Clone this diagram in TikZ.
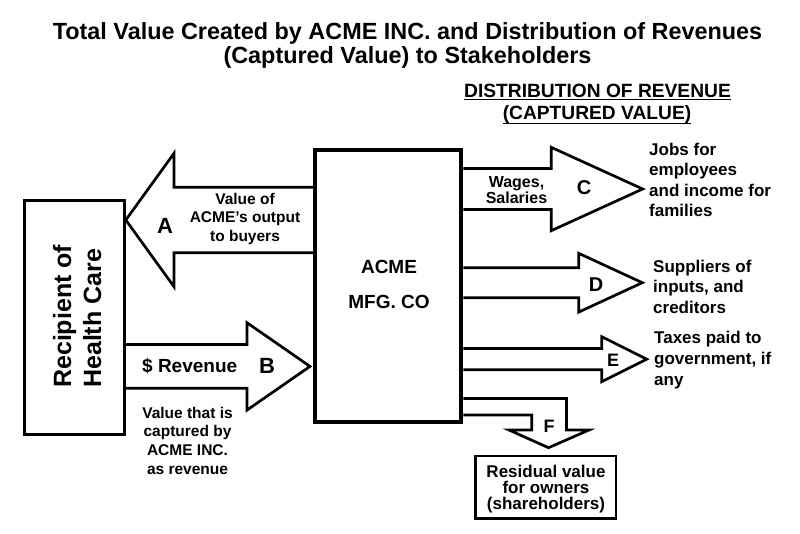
\documentclass[tikz,border=0pt]{standalone}
\usepackage{fontspec}
\setmainfont{Liberation Sans}
\newcommand\cstack[2]{\vtop{\baselineskip=#1pt\lineskiplimit=-100pt\lineskip=0pt\halign{\hfil##\hfil\cr#2\crcr}}}
\newcommand\lstack[2]{\vtop{\baselineskip=#1pt\lineskiplimit=-100pt\lineskip=0pt\halign{##\hfil\cr#2\crcr}}}
\tikzset{
  blk/.style={draw, line width=2.7pt, line join=miter},
  boxnode/.style={draw, inner sep=0pt, anchor=center},
  txt/.style={inner sep=0pt, font=\bfseries},
  fs/.style={font=\bfseries\fontsize{#1}{#1}\selectfont},
}
\begin{document}
\begin{tikzpicture}[x=1pt,y=-1pt]
\fill[white] (0,0) rectangle (800,533);
\useasboundingbox (0,0) rectangle (800,533);
% title
\node[txt, fs=23.4, anchor=base] (title) at (407.5,39) {\cstack{24}{Total Value Created by ACME INC. and Distribution of Revenues\cr (Captured Value) to Stakeholders}};
% header
\node[txt, fs=19.2, anchor=base] (h1) at (597.5,97) {DISTRIBUTION OF REVENUE};
\node[txt, fs=19.2, anchor=base] (h2) at (597,119) {(CAPTURED VALUE)};
\draw[line width=1.6pt] ([yshift=-2.5pt]h1.base west) -- ([yshift=-2.5pt]h1.base east);
\draw[line width=1.6pt] ([yshift=-4.5pt]h2.base west) -- ([yshift=-4.5pt]h2.base east);
% boxes
\node[boxnode, line width=3pt, minimum width=100pt, minimum height=233.6pt] (rec) at (74.3,317.5) {};
\node[boxnode, line width=4pt, minimum width=146pt, minimum height=272.8pt] (acme) at (388.3,285.9) {};
\node[boxnode, line width=2.5pt, minimum width=140.5pt, minimum height=62.7pt] (resid) at (545.75,487.35) {};
% box texts
\node[inner sep=0pt, font=\bfseries\fontsize{25}{25}\selectfont, rotate=90, anchor=base west] (recT) at (71,388) {\lstack{30}{Recipient of\cr Health Care}};
\node[txt, fs=19, anchor=base] (acmeT) at (389,273) {\cstack{35}{ACME\cr MFG. CO}};
\node[txt, fs=17, anchor=base] (residT) at (546,477) {\cstack{16}{Residual value\cr for owners\cr (shareholders)}};
% arrows
\draw[blk] (acme.west |- 0,187.3) -- (174,187.3) -- (174,153.3) -- (rec.east |- 0,220) -- (174,286.7) -- (174,252.7) -- (acme.west |- 0,252.7);
\draw[blk] (rec.east |- 0,344.5) -- (247,344.5) -- (247,322.7) -- (310,366.4) -- (247,410.1) -- (247,388.3) -- (rec.east |- 0,388.3);
\draw[blk] (acme.east |- 0,168.5) -- (551.2,168.5) -- (551.2,147.3) -- (642.7,189) -- (551.2,230.7) -- (551.2,209.5) -- (acme.east |- 0,209.5);
\draw[blk] (acme.east |- 0,267.7) -- (578.7,267.7) -- (578.7,253.3) -- (642.3,282.7) -- (578.7,312.1) -- (578.7,297.7) -- (acme.east |- 0,297.7);
\draw[blk] (acme.east |- 0,348.5) -- (601.7,348.5) -- (601.7,336.7) -- (646.7,359.2) -- (601.7,381.7) -- (601.7,369.8) -- (acme.east |- 0,369.8);
\draw[blk] (acme.east |- 0,398.5) -- (566.5,398.5) -- (566.5,430) -- (589,430) -- (548.5,447.7) -- (509,430) -- (531.8,430) -- (531.8,415) -- (acme.east |- 0,415);
% arrow letters
\node[txt, fs=22, anchor=base] (la) at (165,233) {A};
\node[txt, fs=22, anchor=base] (lb) at (267,373) {B};
\node[txt, fs=20, anchor=base] (lc) at (584,194) {C};
\node[txt, fs=20, anchor=base] (ld) at (596,291) {D};
\node[txt, fs=18, anchor=base] (le) at (613,366) {E};
\node[txt, fs=18, anchor=base] (lf) at (549,432) {F};
% labels
\node[txt, fs=15.5, anchor=base] (valA) at (245,204) {\cstack{18.5}{Value of\cr ACME’s output\cr to buyers}};
\node[txt, fs=19, anchor=base west] (rev) at (142,372) {\$ Revenue};
\node[txt, fs=15.5, anchor=base] (valB) at (187.5,418) {\cstack{18.7}{Value that is\cr captured by\cr ACME INC.\cr as revenue}};
\node[txt, fs=16, anchor=base] (wages) at (516.5,187) {\cstack{16}{Wages,\cr Salaries}};
\node[txt, fs=17, anchor=base west] (jobs) at (649,155) {\lstack{20.5}{Jobs for\cr employees\cr and income for\cr families}};
\node[txt, fs=17, anchor=base west] (supp) at (653,272) {\lstack{20.5}{Suppliers of\cr inputs, and\cr creditors}};
\node[txt, fs=17, anchor=base west] (tax) at (654,343) {\lstack{21}{Taxes paid to\cr government, if\cr any}};
\end{tikzpicture}
\end{document}
